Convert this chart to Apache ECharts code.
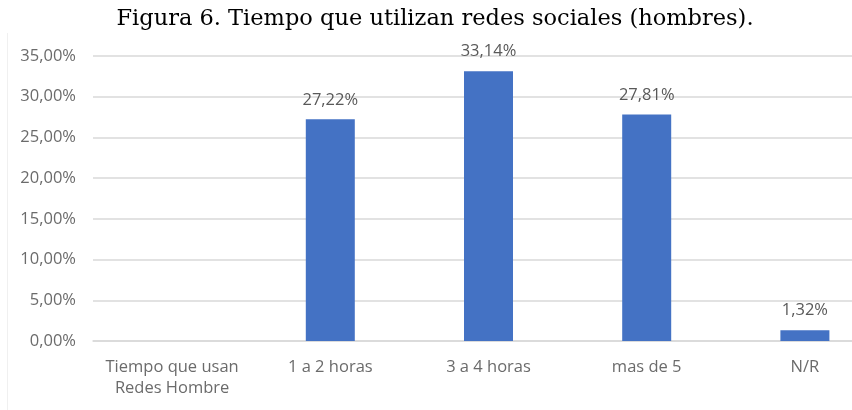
<!DOCTYPE html>
<html>
<head>
<meta charset="utf-8">
<script src="https://cdn.jsdelivr.net/npm/echarts@6/dist/echarts.min.js"></script>
<style>
  html, body { margin: 0; padding: 0; background: #fff; }
  #chart { width: 852px; height: 410px; }
</style>
</head>
<body>
<div id="chart"></div>
<script>
// categorias y valores (%)
const categories = ['Tiempo que usan\nRedes Hombre', '1 a 2 horas', '3 a 4 horas', 'mas de 5', 'N/R'];
const values = [null, 27.22, 33.14, 27.81, 1.32];
const yTicks = [0, 5, 10, 15, 20, 25, 30, 35];

const fmt = (v) => v.toFixed(2).replace('.', ',') + '%';

const myChart = echarts.init(document.getElementById('chart'));

const option = {
  animation: false,
  title: {
    text: 'Figura 6. Tiempo que utilizan redes sociales (hombres).',
    left: 430,
    textAlign: 'center',
    top: 3,
    textStyle: {
      fontFamily: 'DejaVu Serif',
      fontWeight: 'normal',
      fontSize: 22.5,
      color: '#000',
    },
  },
  graphic: [
    {
      type: 'line',
      shape: { x1: 7.5, y1: 33, x2: 7.5, y2: 410 },
      style: { stroke: '#f0f0f0', lineWidth: 1 },
    },
  ],
  grid: { left: 93, top: 56, width: 791, height: 285, outerBoundsMode: 'none' },
  xAxis: {
    type: 'category',
    data: categories,
    axisLine: { lineStyle: { color: '#d9d9d9', width: 1.5 } },
    axisTick: { show: false },
    axisLabel: {
      color: '#6b6b6b',
      fontFamily: 'Open Sans',
      fontSize: 16.5,
      margin: 16,
      lineHeight: 21,
      interval: 0,
    },
  },
  yAxis: {
    type: 'value',
    min: yTicks[0],
    max: yTicks[yTicks.length - 1],
    interval: 5,
    axisLine: { show: false },
    axisTick: { show: false },
    splitLine: { lineStyle: { color: '#d9d9d9', width: 1.5 } },
    axisLabel: {
      color: '#6b6b6b',
      fontFamily: 'Open Sans',
      fontSize: 16.5,
      margin: 17,
      formatter: (v) => fmt(v),
    },
  },
  series: [
    {
      type: 'bar',
      data: values,
      barWidth: 49,
      itemStyle: { color: '#4472c4' },
      label: {
        show: true,
        position: 'top',
        distance: 11,
        color: '#595959',
        fontFamily: 'Open Sans',
        fontSize: 16.5,
        formatter: (p) => (p.value == null ? '' : fmt(p.value)),
      },
    },
  ],
};

myChart.setOption(option);
</script>
</body>
</html>
